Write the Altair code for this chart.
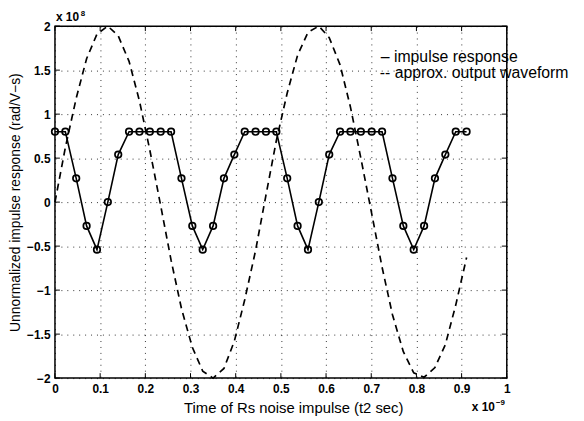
import altair as alt
import pandas as pd

# time axis (units of 1e-9 s)
t_vals = [0.000, 0.023, 0.047, 0.070, 0.093, 0.117, 0.140, 0.164, 0.187, 0.210,
          0.234, 0.257, 0.280, 0.304, 0.327, 0.350, 0.374, 0.397, 0.420, 0.444,
          0.467, 0.490, 0.514, 0.537, 0.560, 0.584, 0.607, 0.631, 0.654, 0.677,
          0.701, 0.724, 0.747, 0.771, 0.794, 0.817, 0.841, 0.864, 0.887, 0.911]

# impulse response (units of 1e8 rad/V-s)
impulse = [0.8, 0.8, 0.27, -0.27, -0.54, 0.0, 0.54, 0.8, 0.8, 0.8,
           0.8, 0.8, 0.27, -0.27, -0.54, -0.27, 0.27, 0.54, 0.8, 0.8,
           0.8, 0.8, 0.27, -0.27, -0.54, 0.0, 0.54, 0.8, 0.8, 0.8,
           0.8, 0.8, 0.27, -0.27, -0.54, -0.27, 0.27, 0.54, 0.8, 0.8]

# approx. output waveform (units of 1e8)
waveform = [0.00, 0.62, 1.18, 1.63, 1.91, 2.00, 1.89, 1.60, 1.15, 0.59,
            -0.04, -0.66, -1.21, -1.65, -1.92, -2.00, -1.89, -1.58, -1.11, -0.55,
            0.08, 0.70, 1.24, 1.67, 1.93, 2.00, 1.87, 1.56, 1.08, 0.50,
            -0.13, -0.74, -1.28, -1.70, -1.94, -1.99, -1.88, -1.62, -1.17, -0.63]

x_ticks = [0, 0.1, 0.2, 0.3, 0.4, 0.5, 0.6, 0.7, 0.8, 0.9, 1]
y_ticks = [-2, -1.5, -1, -0.5, 0, 0.5, 1, 1.5, 2]

legend_labels = ["\u2013 impulse response", "-- approx. output waveform"]

W, H = 457, 356
FONT = "Liberation Sans"

df_imp = pd.DataFrame({"t": t_vals, "v": impulse})
df_wave = pd.DataFrame({"t": t_vals, "v": waveform})
df_xt = pd.DataFrame({"t": x_ticks})
df_yt = pd.DataFrame({"v": y_ticks})
one = pd.DataFrame({"a": [0]})

xscale = alt.Scale(domain=[0, 1], nice=False, zero=False)
yscale = alt.Scale(domain=[-2, 2], nice=False, zero=False)

x_axis = alt.Axis(values=x_ticks, format=".1~f", grid=True, gridDash=[1, 5],
                  gridColor="#000000", gridWidth=1, gridOpacity=0.8,
                  ticks=False, domain=False,
                  labelFont=FONT, labelFontSize=12, labelFontWeight="bold",
                  labelColor="black", labelPadding=6, labelFlush=False,
                  labelOverlap=False,
                  title="Time of Rs noise impulse (t2 sec)", titleFont=FONT,
                  titleFontSize=15, titleFontWeight="normal", titleColor="black",
                  titleX=241, titleY=35, titleBaseline="alphabetic",
                  titleAlign="center")
y_axis = alt.Axis(values=y_ticks, format="~g", grid=True, gridDash=[1, 5],
                  gridColor="#000000", gridWidth=1, gridOpacity=0.8,
                  ticks=False, domain=False,
                  labelFont=FONT, labelFontSize=12, labelFontWeight="bold",
                  labelColor="black", labelPadding=5, labelFlush=False,
                  labelOverlap=False,
                  title="Unnormalized impulse response (rad/V\u2212s)",
                  titleFont=FONT, titleFontSize=14, titleFontWeight="normal",
                  titleColor="black", titleX=-40, titleY=H / 2,
                  titleAlign="center", titleBaseline="middle", titleAngle=270)

wave = alt.Chart(df_wave).mark_line(color="black", strokeWidth=1.7,
                                    strokeDash=[7, 5]).encode(
    x=alt.X("t:Q", scale=xscale, axis=x_axis),
    y=alt.Y("v:Q", scale=yscale, axis=y_axis),
)
imp_line = alt.Chart(df_imp).mark_line(color="black", strokeWidth=1.6).encode(
    x=alt.X("t:Q", scale=xscale), y=alt.Y("v:Q", scale=yscale))
imp_pts = alt.Chart(df_imp).mark_point(shape="circle", filled=False, size=44,
                                       strokeWidth=1.7, color="black",
                                       opacity=1).encode(
    x=alt.X("t:Q", scale=xscale), y=alt.Y("v:Q", scale=yscale))

tick_len = 5
tb = alt.Chart(df_xt).mark_rule(color="black", strokeWidth=1).encode(
    x=alt.X("t:Q", scale=xscale), y=alt.value(H), y2=alt.value(H - tick_len))
tt = alt.Chart(df_xt).mark_rule(color="black", strokeWidth=1).encode(
    x=alt.X("t:Q", scale=xscale), y=alt.value(0), y2=alt.value(tick_len))
tl = alt.Chart(df_yt).mark_rule(color="black", strokeWidth=1).encode(
    y=alt.Y("v:Q", scale=yscale), x=alt.value(0), x2=alt.value(tick_len))
tr = alt.Chart(df_yt).mark_rule(color="black", strokeWidth=1).encode(
    y=alt.Y("v:Q", scale=yscale), x=alt.value(W), x2=alt.value(W - tick_len))


def txt(s, x, y, size, weight="normal", align="left"):
    return alt.Chart(one).mark_text(font=FONT, fontSize=size, fontWeight=weight,
                                    color="black", align=align,
                                    baseline="alphabetic").encode(
        x=alt.value(x), y=alt.value(y), text=alt.value(s))


leg1 = txt(legend_labels[0], 329.5, 36, 16)
leg2 = txt(legend_labels[1], 328.5, 52.5, 16)
exp_y = txt("x 10", 1, -5, 12, "bold")
exp_y2 = txt("8", 26, -10, 8, "bold")
exp_x = txt("x 10", 445, 389, 12, "bold", "right")
exp_x2 = txt("\u22129", 446, 383, 8, "bold")

chart = alt.layer(
    wave, imp_line, imp_pts, tb, tt, tl, tr,
    leg1, leg2, exp_y, exp_y2, exp_x, exp_x2
).properties(
    width=W, height=H,
    autosize=alt.AutoSizeParams(type="none"),
    padding={"left": 47.5, "top": 16, "right": 70, "bottom": 38},
    background="white",
).configure_view(
    stroke="black", strokeWidth=1.5
)

chart.save("out.html", embed_options={"renderer": "svg", "actions": False})
